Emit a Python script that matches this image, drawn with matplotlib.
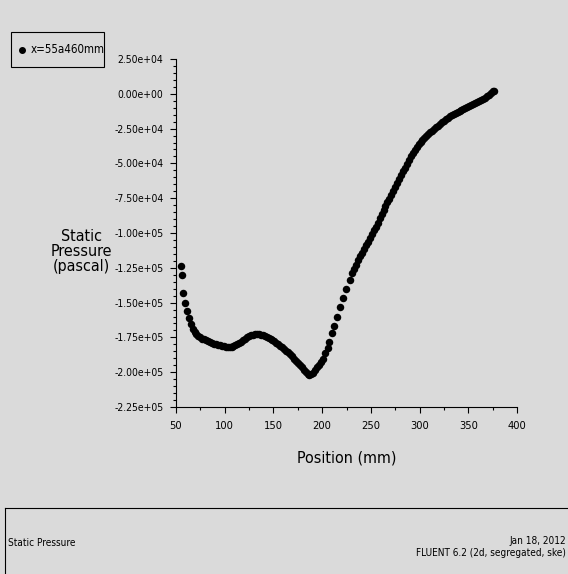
import matplotlib
matplotlib.use("Agg")
import matplotlib.pyplot as plt
from matplotlib.ticker import MultipleLocator, FuncFormatter
from matplotlib.patches import Rectangle
from matplotlib.lines import Line2D

# Static pressure along the line x = 55..460 mm
position_mm = [
    55.2, 55.8, 57.5, 59.2,
    61, 63, 65, 67, 69, 71, 73, 75, 77, 79, 81, 83, 85, 87, 89, 91, 93, 95,
    97, 99, 101, 103, 105, 107, 109, 111, 113, 115, 117, 119, 121, 123, 125,
    127, 129, 131, 133, 135, 137, 139, 141, 143, 145, 147, 149, 151, 153,
    155, 157, 159, 161, 163, 165, 167, 169, 171, 173, 175, 177, 179, 181,
    183, 185, 187, 189, 191, 193, 195, 197, 199, 201, 203,
    205.5, 207.5, 210, 212.3, 215, 218.3, 221.2, 224.5, 228.3, 231,
    233, 235, 237, 239, 241, 243, 245, 247, 249, 251, 253, 255, 257, 259,
    261, 263, 265, 267, 269, 271, 273, 275, 277, 279, 281, 283, 285, 287,
    289, 291, 293, 295, 297, 299, 301, 303, 305, 307, 309, 311, 313, 315,
    317, 319, 321, 323, 325, 327, 329, 331, 333, 335, 337, 339, 341, 343,
    345, 347, 349, 351, 353, 355, 357, 359, 361, 363, 365, 367, 369, 371,
    373, 375, 376,
]
static_pressure_kpa = [
    -123.5, -130.5, -143.0, -150.5,
    -156.0, -161.3, -165.6, -168.7, -170.8, -172.3, -173.8, -175.0, -175.8,
    -176.5, -177.0, -177.6, -178.3, -178.9, -179.5, -180.0, -180.4, -180.8,
    -181.1, -181.4, -181.7, -181.9, -181.9, -181.7, -181.3, -180.8, -180.0,
    -179.2, -178.1, -177.0, -175.9, -174.9, -174.2, -173.5, -173.0, -172.7,
    -172.6, -172.7, -173.0, -173.4, -173.9, -174.4, -175.1, -175.8, -176.7,
    -177.7, -178.7, -179.8, -180.9, -182.1, -183.2, -184.5, -185.8, -187.2,
    -188.7, -190.2, -191.7, -193.4, -195.0, -196.6, -198.2, -199.8, -201.2,
    -202.0, -201.6, -200.3, -198.5, -196.5, -194.5, -192.5, -190.2, -186.5,
    -182.5, -178.5, -171.5, -166.7, -160.7, -153.5, -146.5, -140.3, -133.5,
    -129.0,
    -125.8, -122.8, -119.5, -116.8, -114.2, -111.5, -108.8, -106.2, -103.5,
    -100.8, -98.2, -95.5, -92.5, -89.5, -86.5, -83.7, -80.8, -78.0, -75.3,
    -72.6, -69.8, -66.9, -64.1, -61.3, -58.6, -55.8, -53.0, -50.3, -47.6,
    -45.0, -42.6, -40.4, -38.3, -36.4, -34.6, -33.0, -31.5, -30.1, -28.8,
    -27.6, -26.4, -25.2, -24.0, -22.9, -21.8, -20.6, -19.5, -18.4, -17.3,
    -16.2, -15.2, -14.4, -13.7, -13.0, -12.3, -11.6, -10.9, -10.2, -9.5,
    -8.9, -8.2, -7.5, -6.8, -6.1, -5.3, -4.6, -3.7, -2.7, -1.7, -0.8, 0.3,
    1.7, 2.3,
]
static_pressure_pa = [v * 1000.0 for v in static_pressure_kpa]

series_label = "x=55a460mm"
x_title = "Position (mm)"
y_title = "Static\nPressure\n(pascal)"
footer_left = "Static Pressure"
footer_date = "Jan 18, 2012"
footer_solver = "FLUENT 6.2 (2d, segregated, ske)"

BG = "#dadada"
plt.rcParams["font.family"] = ["DejaVu Sans", "Liberation Sans"]
plt.rcParams["font.stretch"] = "condensed"

fig = plt.figure(figsize=(5.68, 5.74), dpi=100, facecolor=BG)
ax = fig.add_axes([176 / 568, 1 - 407 / 574, (517 - 176) / 568, (407 - 59) / 574])
ax.set_facecolor(BG)

ax.plot(position_mm, static_pressure_pa, linestyle="none", marker="o",
        markersize=5.4, markerfacecolor="black", markeredgecolor="black",
        markeredgewidth=0, clip_on=False)

ax.set_xlim(50, 400)
ax.set_ylim(-225000, 25000)
ax.xaxis.set_major_locator(MultipleLocator(50))
ax.xaxis.set_minor_locator(MultipleLocator(25))
ax.yaxis.set_major_locator(MultipleLocator(25000))
ax.yaxis.set_minor_locator(MultipleLocator(5000))
ax.yaxis.set_major_formatter(FuncFormatter(lambda v, p: f"{v:.2e}"))
ax.xaxis.set_major_formatter(FuncFormatter(lambda v, p: f"{v:.0f}"))

for side in ("top", "right"):
    ax.spines[side].set_visible(False)
for side in ("left", "bottom"):
    ax.spines[side].set_linewidth(0.8)
    ax.spines[side].set_color("black")

ax.tick_params(axis="both", which="major", direction="out", length=4,
               width=0.8, colors="black", pad=5)
ax.tick_params(axis="y", which="major", labelsize=7.5)
ax.tick_params(axis="x", which="major", labelsize=8, pad=6)
ax.tick_params(axis="both", which="minor", direction="out", length=2,
               width=0.8, colors="black")

ax.set_xlabel(x_title, fontsize=11.5, labelpad=14)
fig.text(81 / 568, 1 - 252 / 574, y_title, fontsize=11.5, ha="center",
         va="center", linespacing=1.0)

# Legend box
fig.patches.append(Rectangle((11 / 568, 1 - 67 / 574), 93 / 568, 35 / 574,
                             transform=fig.transFigure, fill=False,
                             edgecolor="black", linewidth=0.8))
fig.lines.append(Line2D([22 / 568], [1 - 49.5 / 574], marker="o",
                        markersize=4, color="black", linestyle="none",
                        transform=fig.transFigure))
fig.text(31 / 568, 1 - 49.5 / 574, series_label, fontsize=8.3, ha="left",
         va="center")

# Footer panel
fig.lines.append(Line2D([5 / 568, 1.0], [1 - 508 / 574, 1 - 508 / 574],
                        color="black", linewidth=0.8, transform=fig.transFigure))
fig.lines.append(Line2D([5 / 568, 5 / 568], [1 - 508 / 574, 0.0],
                        color="black", linewidth=0.8, transform=fig.transFigure))
fig.text(8 / 568, 1 - 543 / 574, footer_left, fontsize=7.2, ha="left",
         va="center")
fig.text(566 / 568, 1 - 541 / 574, footer_date, fontsize=7.2, ha="right",
         va="center")
fig.text(566 / 568, 1 - 553 / 574, footer_solver, fontsize=7.2, ha="right",
         va="center")

fig.savefig("out.png", dpi=100, facecolor=BG)
